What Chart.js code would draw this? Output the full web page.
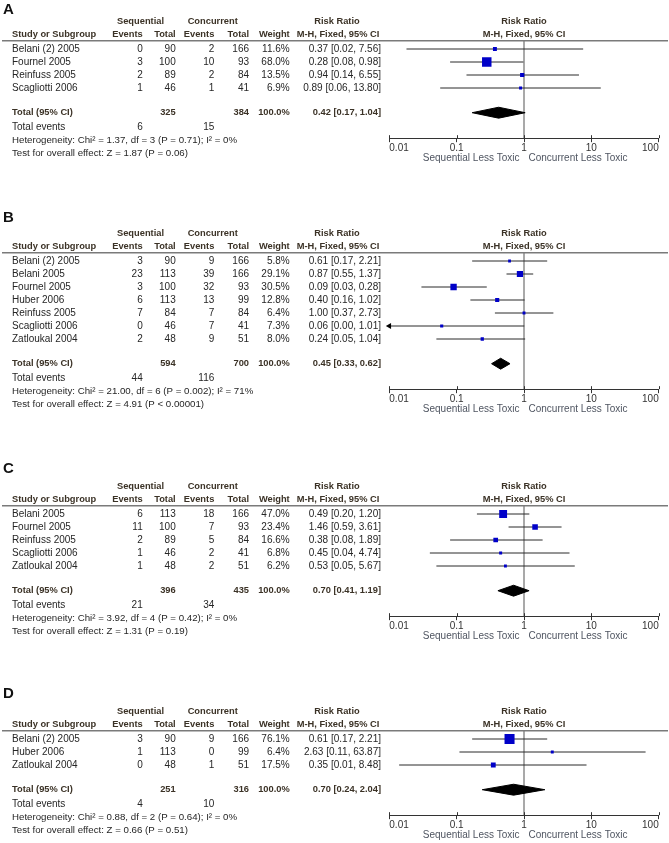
<!DOCTYPE html>
<html><head><meta charset="utf-8">
<script src="https://cdn.jsdelivr.net/npm/chart.js@4.4.1/dist/chart.umd.min.js"></script>
<style>
html,body{margin:0;padding:0;background:#fff;width:669px;height:843px;overflow:hidden;position:relative;}
canvas{position:absolute;left:0;}
</style></head><body>
<script>
// ---------- DATA ----------
const panelLetters = ["A", "B", "C", "D"];
const tickValues = [0.01, 0.1, 1, 10, 100];
const tickLabels = ["0.01", "0.1", "1", "10", "100"];
const leftDirLabel = "Sequential Less Toxic";
const rightDirLabel = "Concurrent Less Toxic";

// Panel A
const studiesA = ["Belani (2) 2005", "Fournel 2005", "Reinfuss 2005", "Scagliotti 2006"];
const seqEventsA = [0, 3, 2, 1];
const seqTotalA = [90, 100, 89, 46];
const conEventsA = [2, 10, 2, 1];
const conTotalA = [166, 93, 84, 41];
const weightA = [11.6, 68.0, 13.5, 6.9];
const rrA = [0.37, 0.28, 0.94, 0.89];
const loA = [0.018, 0.08, 0.14, 0.057];
const hiA = [7.56, 0.98, 6.55, 13.80];
const totalA = { seqT: 325, conT: 384, rr: 0.42, lo: 0.17, hi: 1.04, seqE: 6, conE: 15 };
const hetA = "Heterogeneity: Chi² = 1.37, df = 3 (P = 0.71); I² = 0%";
const testA = "Test for overall effect: Z = 1.87 (P = 0.06)";

// Panel B
const studiesB = ["Belani (2) 2005", "Belani 2005", "Fournel 2005", "Huber 2006", "Reinfuss 2005", "Scagliotti 2006", "Zatloukal 2004"];
const seqEventsB = [3, 23, 3, 6, 7, 0, 2];
const seqTotalB = [90, 113, 100, 113, 84, 46, 48];
const conEventsB = [9, 39, 32, 13, 7, 7, 9];
const conTotalB = [166, 166, 93, 99, 84, 41, 51];
const weightB = [5.8, 29.1, 30.5, 12.8, 6.4, 7.3, 8.0];
const rrB = [0.61, 0.87, 0.09, 0.40, 1.00, 0.06, 0.24];
const loB = [0.17, 0.55, 0.03, 0.16, 0.37, 0.004, 0.05];
const hiB = [2.21, 1.37, 0.28, 1.02, 2.73, 1.01, 1.04];
const totalB = { seqT: 594, conT: 700, rr: 0.45, lo: 0.33, hi: 0.62, seqE: 44, conE: 116 };
const hetB = "Heterogeneity: Chi² = 21.00, df = 6 (P = 0.002); I² = 71%";
const testB = "Test for overall effect: Z = 4.91 (P < 0.00001)";

// Panel C
const studiesC = ["Belani 2005", "Fournel 2005", "Reinfuss 2005", "Scagliotti 2006", "Zatloukal 2004"];
const seqEventsC = [6, 11, 2, 1, 1];
const seqTotalC = [113, 100, 89, 46, 48];
const conEventsC = [18, 7, 5, 2, 2];
const conTotalC = [166, 93, 84, 41, 51];
const weightC = [47.0, 23.4, 16.6, 6.8, 6.2];
const rrC = [0.49, 1.46, 0.38, 0.45, 0.53];
const loC = [0.20, 0.59, 0.08, 0.04, 0.05];
const hiC = [1.20, 3.61, 1.89, 4.74, 5.67];
const totalC = { seqT: 396, conT: 435, rr: 0.70, lo: 0.41, hi: 1.19, seqE: 21, conE: 34 };
const hetC = "Heterogeneity: Chi² = 3.92, df = 4 (P = 0.42); I² = 0%";
const testC = "Test for overall effect: Z = 1.31 (P = 0.19)";

// Panel D
const studiesD = ["Belani (2) 2005", "Huber 2006", "Zatloukal 2004"];
const seqEventsD = [3, 1, 0];
const seqTotalD = [90, 113, 48];
const conEventsD = [9, 0, 1];
const conTotalD = [166, 99, 51];
const weightD = [76.1, 6.4, 17.5];
const rrD = [0.61, 2.63, 0.35];
const loD = [0.17, 0.11, 0.014];
const hiD = [2.21, 63.87, 8.48];
const totalD = { seqT: 251, conT: 316, rr: 0.70, lo: 0.24, hi: 2.04, seqE: 4, conE: 10 };
const hetD = "Heterogeneity: Chi² = 0.88, df = 2 (P = 0.64); I² = 0%";
const testD = "Test for overall effect: Z = 0.66 (P = 0.51)";

// ---------- LAYOUT / STYLE ----------
const FONT = '"Liberation Sans", Arial, sans-serif';
const TXT = '#262626', BOLD = '#3b3226', AXT = '#4f5561';
const ROW = 13, ROW0 = 60, AXH = 15;
const AX_MIN = 0.01, AX_MAX = 100;
const panelTops = [-10.7, 201.3, 454, 679.3];
const letterY = [20.7, 16.7, 15, 15];
const COL = { name: 12, seqE: 142.7, seqT: 175.7, conE: 214.3, conT: 249, wt: 289.7, ci: 381, seqHead: 140.5, conHead: 212.7 };

const panels = [
  { studies: studiesA, seqE: seqEventsA, seqT: seqTotalA, conE: conEventsA, conT: conTotalA, w: weightA, rr: rrA, lo: loA, hi: hiA, tot: totalA, het: hetA, test: testA },
  { studies: studiesB, seqE: seqEventsB, seqT: seqTotalB, conE: conEventsB, conT: conTotalB, w: weightB, rr: rrB, lo: loB, hi: hiB, tot: totalB, het: hetB, test: testB },
  { studies: studiesC, seqE: seqEventsC, seqT: seqTotalC, conE: conEventsC, conT: conTotalC, w: weightC, rr: rrC, lo: loC, hi: hiC, tot: totalC, het: hetC, test: testC },
  { studies: studiesD, seqE: seqEventsD, seqT: seqTotalD, conE: conEventsD, conT: conTotalD, w: weightD, rr: rrD, lo: loD, hi: hiD, tot: totalD, het: hetD, test: testD }
];

const ciText = (r, l, h) => r.toFixed(2) + " [" + l.toFixed(2) + ", " + h.toFixed(2) + "]";

function tablePlugin(p, idx) {
  return {
    id: 'table' + idx,
    afterDraw(chart) {
      const ctx = chart.ctx, xs = chart.scales.x, ys = chart.scales.y, ca = chart.chartArea;
      const Y = v => ys.getPixelForValue(v);
      const n = p.studies.length;
      ctx.save();
      // top rule
      ctx.strokeStyle = '#7a7a7a'; ctx.lineWidth = 1.5;
      ctx.beginPath(); ctx.moveTo(2, ca.top); ctx.lineTo(668, ca.top); ctx.stroke();
      // upward tick parts
      ctx.strokeStyle = '#333'; ctx.lineWidth = 1;
      tickValues.forEach(v => {
        const x = Math.round(xs.getPixelForValue(v)) + 0.5;
        ctx.beginPath(); ctx.moveTo(x, ca.bottom - 3); ctx.lineTo(x, ca.bottom); ctx.stroke();
      });
      const txt = (s, x, y, align, bold, size) => {
        ctx.font = (bold ? 'bold 9.3px ' : (size || 10) + 'px ') + FONT;
        ctx.fillStyle = bold ? BOLD : TXT;
        ctx.textAlign = align; ctx.textBaseline = 'middle';
        ctx.fillText(s, x, y);
      };
      // letter
      ctx.font = 'bold 15px ' + FONT; ctx.fillStyle = '#111'; ctx.textAlign = 'left'; ctx.textBaseline = 'middle';
      ctx.fillText(panelLetters[idx], 3, letterY[idx]);
      // headers
      const h1 = Y(-2.1), h2 = Y(-1.1);
      const x1 = xs.getPixelForValue(1);
      txt("Sequential", COL.seqHead, h1, 'center', true);
      txt("Concurrent", COL.conHead, h1, 'center', true);
      txt("Risk Ratio", 337, h1, 'center', true);
      txt("Risk Ratio", x1, h1, 'center', true);
      txt("Study or Subgroup", COL.name, h2, 'left', true);
      txt("Events", COL.seqE, h2, 'right', true);
      txt("Total", COL.seqT, h2, 'right', true);
      txt("Events", COL.conE, h2, 'right', true);
      txt("Total", COL.conT, h2, 'right', true);
      txt("Weight", COL.wt, h2, 'right', true);
      txt("M-H, Fixed, 95% CI", 338, h2, 'center', true);
      txt("M-H, Fixed, 95% CI", x1, h2, 'center', true);
      // study rows
      p.studies.forEach((s, i) => {
        const y = Y(i);
        txt(s, COL.name, y, 'left');
        txt(String(p.seqE[i]), COL.seqE, y, 'right');
        txt(String(p.seqT[i]), COL.seqT, y, 'right');
        txt(String(p.conE[i]), COL.conE, y, 'right');
        txt(String(p.conT[i]), COL.conT, y, 'right');
        txt(p.w[i].toFixed(1) + "%", COL.wt, y, 'right');
        txt(ciText(p.rr[i], p.lo[i], p.hi[i]), COL.ci, y, 'right');
      });
      // total row
      const ty = Y(n + 0.9);
      txt("Total (95% CI)", COL.name, ty, 'left', true);
      txt(String(p.tot.seqT), COL.seqT, ty, 'right', true);
      txt(String(p.tot.conT), COL.conT, ty, 'right', true);
      txt("100.0%", COL.wt, ty, 'right', true);
      txt(ciText(p.tot.rr, p.tot.lo, p.tot.hi), COL.ci, ty, 'right', true);
      // footer
      const ey = Y(n + 2.05);
      txt("Total events", COL.name, ey, 'left');
      txt(String(p.tot.seqE), COL.seqE, ey, 'right');
      txt(String(p.tot.conE), COL.conE, ey, 'right');
      txt(p.het, COL.name, Y(n + 3.05), 'left', false, 9.7);
      txt(p.test, COL.name, Y(n + 4.05), 'left', false, 9.7);
      // direction labels
      ctx.font = '10px ' + FONT; ctx.fillStyle = AXT; ctx.textBaseline = 'middle';
      ctx.textAlign = 'right'; ctx.fillText(leftDirLabel, x1 - 4.5, ca.bottom + 20);
      ctx.textAlign = 'left'; ctx.fillText(rightDirLabel, x1 + 4.5, ca.bottom + 20);
      ctx.restore();
    }
  };
}

panels.forEach((p, idx) => {
  const n = p.studies.length;
  const H = Math.round(ROW0 + (n + 4.05) * ROW + 10);
  const canvas = document.createElement('canvas');
  canvas.width = 669; canvas.height = H;
  canvas.style.cssText = 'position:absolute;left:0;top:' + panelTops[idx] + 'px;width:669px;height:' + H + 'px';
  document.body.appendChild(canvas);
  const yMin = -0.64, yMax = n + 2.86;
  const padTop = ROW0 + yMin * ROW;
  const chartBottom = ROW0 + yMax * ROW;
  const padBottom = H - chartBottom - AXH;

  const datasets = [];
  datasets.push({ type: 'line', data: [{ x: 1, y: yMin }, { x: 1, y: yMax }], borderColor: '#8c8c8c', borderWidth: 1.5, pointRadius: 0, order: 10 });
  p.studies.forEach((s, i) => {
    const off = p.lo[i] < AX_MIN;
    datasets.push({
      type: 'line',
      data: [{ x: off ? AX_MIN : p.lo[i], y: i }, { x: Math.min(p.hi[i], AX_MAX), y: i }],
      borderColor: '#2a2a2a', borderWidth: 1,
      pointRadius: [off ? 3.5 : 0, 0], pointStyle: 'triangle', pointRotation: -90,
      pointBackgroundColor: '#000', pointBorderWidth: 0, clip: false, order: 5
    });
  });
  const t = n + 0.9, dh = 0.42;
  datasets.push({
    type: 'line',
    data: [{ x: p.tot.lo, y: t }, { x: p.tot.rr, y: t - dh }, { x: p.tot.hi, y: t }, { x: p.tot.rr, y: t + dh }, { x: p.tot.lo, y: t }],
    borderColor: '#000', borderWidth: 1, backgroundColor: '#000', fill: 'shape', pointRadius: 0, tension: 0, order: 1
  });
  datasets.push({
    type: 'scatter',
    data: p.rr.map((v, i) => ({ x: v, y: i })),
    pointStyle: 'rect',
    pointRadius: p.w.map(w => Math.max(2.5, 1.15 * Math.sqrt(w)) / Math.SQRT2),
    pointBackgroundColor: '#0000c8', pointBorderWidth: 0, order: 0
  });

  new Chart(canvas, {
    type: 'scatter',
    data: { datasets },
    options: {
      responsive: false, animation: false, events: [],
      layout: { padding: { left: 389.3, right: 10.3, top: padTop, bottom: padBottom } },
      plugins: { legend: { display: false }, tooltip: { enabled: false } },
      scales: {
        x: {
          type: 'logarithmic', min: AX_MIN, max: AX_MAX, position: 'bottom',
          afterBuildTicks: s => { s.ticks = tickValues.map(v => ({ value: v })); },
          afterFit: s => { s.height = AXH; },
          ticks: { align: 'inner', padding: 0, color: '#333', font: { family: FONT, size: 10 }, callback: (v, i) => tickLabels[i], maxRotation: 0, autoSkip: false },
          grid: { drawOnChartArea: false, drawTicks: true, tickLength: 4, color: '#333', lineWidth: 1 },
          border: { display: true, color: '#333', width: 1 }
        },
        y: { type: 'linear', min: yMin, max: yMax, reverse: true, display: false }
      }
    },
    plugins: [tablePlugin(p, idx)]
  });
});
</script>
</body></html>
